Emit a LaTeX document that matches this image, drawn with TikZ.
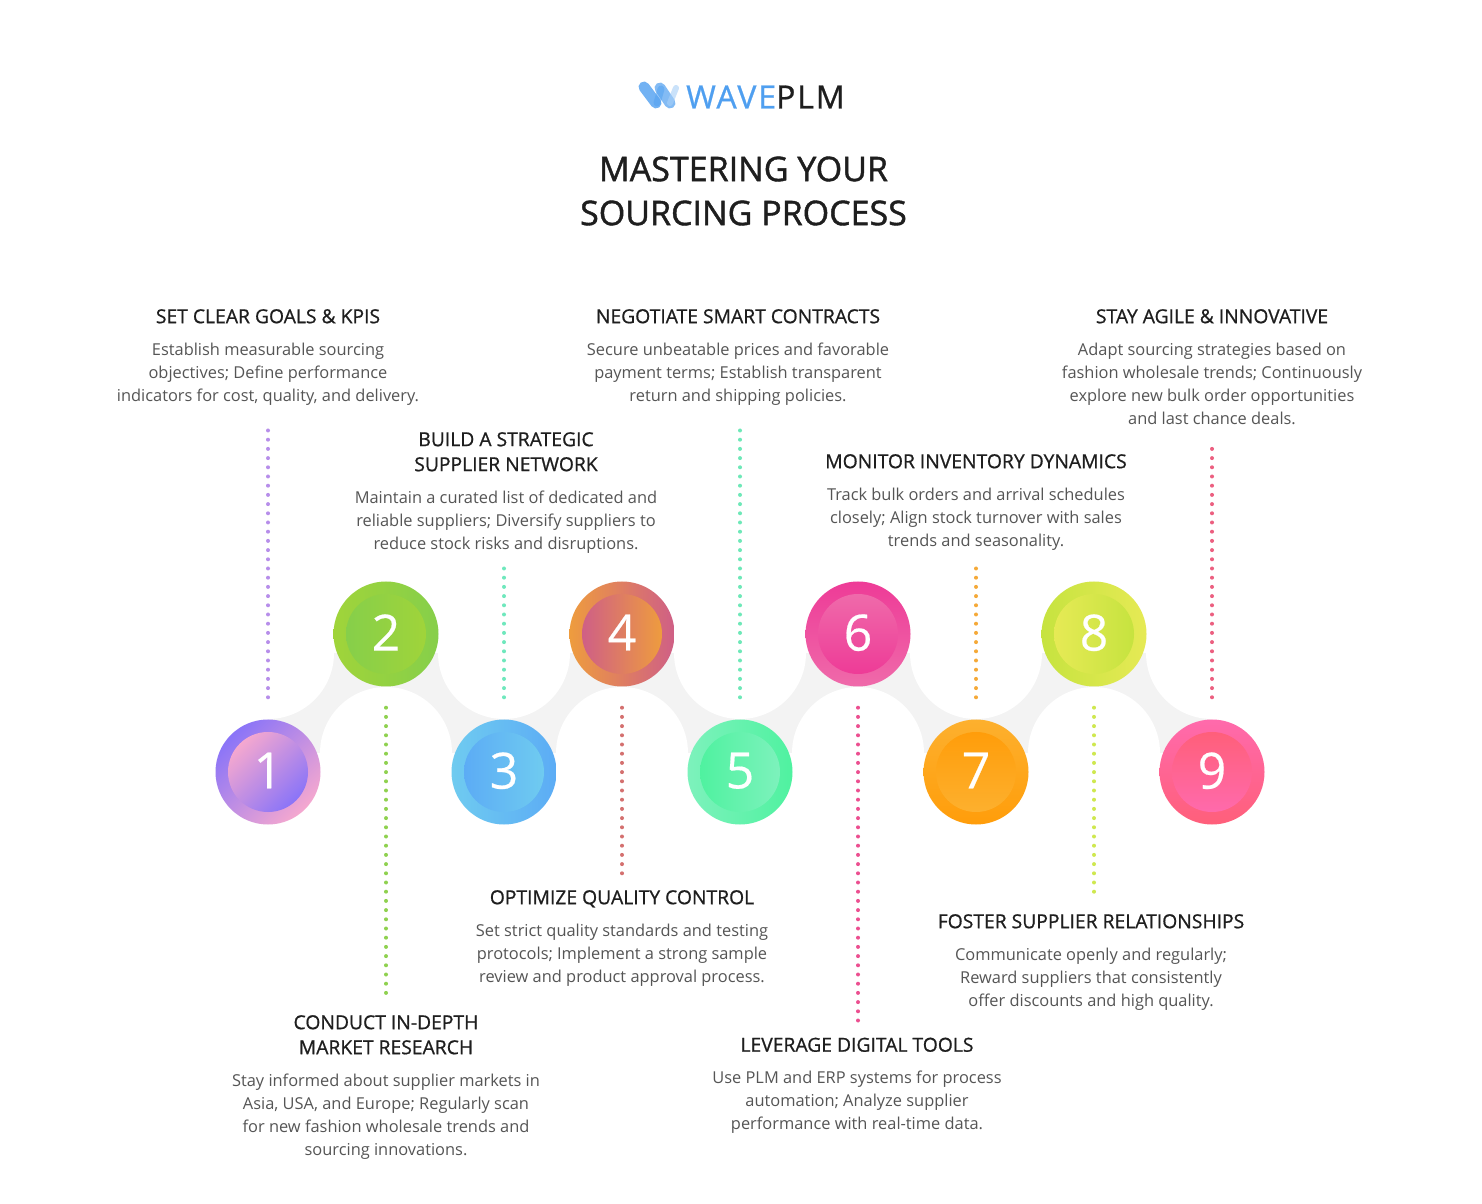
\documentclass[tikz,border=0pt]{standalone}
\usepackage{fontspec}
\setmainfont{Open Sans}
\newfontfamily\headfont[FakeBold=0.8]{Open Sans}
\newfontfamily\titlefont[FakeBold=1.2]{Open Sans}
\newfontfamily\digitfont[FakeBold=0.4]{Open Sans}
\newfontfamily\logofont[LetterSpace=6,FakeBold=0.8]{Open Sans}
\definecolor{headcol}{HTML}{1E1E1E}
\definecolor{bodycol}{HTML}{555555}
\definecolor{wavecol}{HTML}{F3F3F3}
\definecolor{logoblue}{HTML}{4F9FF0}
\definecolor{purp}{HTML}{8A74F8}
\definecolor{pink}{HTML}{F5A8CF}
\definecolor{lime}{HTML}{A0D43A}
\definecolor{grass}{HTML}{86CF4A}
\definecolor{sky}{HTML}{6FCBF0}
\definecolor{azure}{HTML}{5CACF5}
\definecolor{amber}{HTML}{EE9C3E}
\definecolor{rosewood}{HTML}{CF5F86}
\definecolor{mint}{HTML}{7DF2BC}
\definecolor{jade}{HTML}{4FF2A0}
\definecolor{fuchsia}{HTML}{EE3B97}
\definecolor{blush}{HTML}{EF6AAA}
\definecolor{apricot}{HTML}{FDB02E}
\definecolor{tangerine}{HTML}{FF9D0A}
\definecolor{pear}{HTML}{C6E33F}
\definecolor{lemon}{HTML}{E6EA55}
\definecolor{candy}{HTML}{FF6AAC}
\definecolor{coral}{HTML}{FF5F7A}
\definecolor{dot1}{HTML}{B78EEA}
\definecolor{dot2}{HTML}{8FD14F}
\definecolor{dot3}{HTML}{6FE8BD}
\definecolor{dot4}{HTML}{D4706F}
\definecolor{dot5}{HTML}{6EE8B8}
\definecolor{dot6}{HTML}{EC4F90}
\definecolor{dot7}{HTML}{F5A938}
\definecolor{dot8}{HTML}{CFE84F}
\definecolor{dot9}{HTML}{EC5F80}
\newcommand{\hd}[1]{{\headfont\fontsize{19.3}{23}\selectfont\color{headcol}#1}}
\tikzset{
  txtbox/.style={anchor=north, align=center, inner sep=0pt, text=bodycol, font=\fontsize{16.4}{23}\selectfont},
  ball/.style n args={3}{circle, minimum size=105pt, inner sep=0pt, top color=#1, bottom color=#2, shading angle=#3},
  core/.style n args={3}{circle, minimum size=80pt, inner sep=0pt, top color=#1, bottom color=#2, shading angle=#3, text=white, text depth=3pt, font=\digitfont\fontsize{50}{50}\selectfont},
  dotline/.style={line width=4pt, line cap=round, dash pattern=on 0pt off 9.2pt, draw=#1},
  logostroke/.style={line width=11pt, line cap=round, draw=#1}
}
\begin{document}
\begin{tikzpicture}[x=1pt,y=1pt]
\path[fill=white, use as bounding box] (0,0) rectangle (1482,1203);
% wave behind the balls
\fill[wavecol] (268,450) rectangle (1212,550);
\fill[white] (268,550) circle (66) (504,550) circle (66) (740,550) circle (66) (976,550) circle (66) (1212,550) circle (66);
\fill[white] (386,450) circle (66) (622,450) circle (66) (858,450) circle (66) (1094,450) circle (66);
% logo
\draw[logostroke=logoblue, opacity=.8] (644,1116) -- (656,1100);
\draw[logostroke=logoblue, opacity=.5, line width=7pt] (657,1100) -- (661,1114);
\draw[logostroke=logoblue, opacity=.7] (660,1115) -- (670,1100);
\draw[logostroke=logoblue!50, opacity=.6, line width=6pt] (670,1100) -- (676,1115);
\node[anchor=west, inner sep=0pt, font=\logofont\fontsize{32}{32}\selectfont] (logo) at (686,1106) {\textcolor{logoblue}{WAVE}\textcolor{headcol}{PLM}};
% title
\node[align=center, inner sep=0pt, font=\titlefont\fontsize{34}{44}\selectfont, text=headcol] (title) at (743.5,1012) {MASTERING YOUR\\SOURCING PROCESS};
% balls
\node[ball={purp}{pink}{45}] (N1) at (268,431) {};
\node[ball={lime}{grass}{90}] at ([xshift=118pt,yshift=138pt]N1.center) (N2) {};
\node[ball={sky}{azure}{90}] at ([xshift=236pt]N1.center) (N3) {};
\node[ball={amber}{rosewood}{90}] at ([xshift=236pt]N2.center) (N4) {};
\node[ball={mint}{jade}{90}] at ([xshift=472pt]N1.center) (N5) {};
\node[ball={fuchsia}{blush}{0}] at ([xshift=472pt]N2.center) (N6) {};
\node[ball={apricot}{tangerine}{0}] at ([xshift=708pt]N1.center) (N7) {};
\node[ball={pear}{lemon}{90}] at ([xshift=708pt]N2.center) (N8) {};
\node[ball={candy}{coral}{0}] at ([xshift=944pt]N1.center) (N9) {};
\node[core={pink}{purp}{45}] at (N1.center) (D1) {1};
\node[core={grass}{lime}{90}] at (N2.center) (D2) {2};
\node[core={azure}{sky}{90}] at (N3.center) (D3) {3};
\node[core={rosewood}{amber}{90}] at (N4.center) (D4) {4};
\node[core={jade}{mint}{90}] at (N5.center) (D5) {5};
\node[core={blush}{fuchsia}{0}] at (N6.center) (D6) {6};
\node[core={tangerine}{apricot}{0}] at (N7.center) (D7) {7};
\node[core={lemon}{pear}{90}] at (N8.center) (D8) {8};
\node[core={coral}{candy}{0}] at (N9.center) (D9) {9};
% texts
\node[txtbox] (T1) at (268,894) {\hd{SET CLEAR GOALS \& KPIS}\\[9pt]Establish measurable sourcing\\objectives; Define performance\\indicators for cost, quality, and delivery.};
\node[txtbox] (T2) at (386,188) {\hd{CONDUCT IN-DEPTH}\\[2pt]\hd{MARKET RESEARCH}\\[9pt]Stay informed about supplier markets in\\Asia, USA, and Europe; Regularly scan\\for new fashion wholesale trends and\\sourcing innovations.};
\node[txtbox] (T3) at (506,771) {\hd{BUILD A STRATEGIC}\\[2pt]\hd{SUPPLIER NETWORK}\\[9pt]Maintain a curated list of dedicated and\\reliable suppliers; Diversify suppliers to\\reduce stock risks and disruptions.};
\node[txtbox] (T4) at (622,313) {\hd{OPTIMIZE QUALITY CONTROL}\\[9pt]Set strict quality standards and testing\\protocols; Implement a strong sample\\review and product approval process.};
\node[txtbox] (T5) at (738,894) {\hd{NEGOTIATE SMART CONTRACTS}\\[9pt]Secure unbeatable prices and favorable\\payment terms; Establish transparent\\return and shipping policies.};
\node[txtbox] (T6) at (857,165.5) {\hd{LEVERAGE DIGITAL TOOLS}\\[9pt]Use PLM and ERP systems for process\\automation; Analyze supplier\\performance with real-time data.};
\node[txtbox] (T7) at (976,749) {\hd{MONITOR INVENTORY DYNAMICS}\\[9pt]Track bulk orders and arrival schedules\\closely; Align stock turnover with sales\\trends and seasonality.};
\node[txtbox] (T8) at (1091,289) {\hd{FOSTER SUPPLIER RELATIONSHIPS}\\[9pt]Communicate openly and regularly;\\Reward suppliers that consistently\\offer discounts and high quality.};
\node[txtbox] (T9) at (1212,894) {\hd{STAY AGILE \& INNOVATIVE}\\[9pt]Adapt sourcing strategies based on\\fashion wholesale trends; Continuously\\explore new bulk order opportunities\\and last chance deals.};
% dotted connectors
\draw[dotline=dot1, shorten >=19pt] ([yshift=22pt]N1.north) -- (N1.north |- T1.south);
\draw[dotline=dot2, shorten >=13pt] ([yshift=-21pt]N2.south) -- (N2.south |- T2.north);
\draw[dotline=dot3, shorten >=12pt] ([yshift=22pt]N3.north) -- (N3.north |- T3.south);
\draw[dotline=dot4, shorten >=13pt] ([yshift=-21pt]N4.south) -- (N4.south |- T4.north);
\draw[dotline=dot5, shorten >=20pt] ([yshift=22pt]N5.north) -- (N5.north |- T5.south);
\draw[dotline=dot6, shorten >=12.5pt] ([yshift=-21pt]N6.south) -- (N6.south |- T6.north);
\draw[dotline=dot7, shorten >=17pt] ([yshift=22pt]N7.north) -- (N7.north |- T7.south);
\draw[dotline=dot8, shorten >=19pt] ([yshift=-21pt]N8.south) -- (N8.south |- T8.north);
\draw[dotline=dot9, shorten >=20pt] ([yshift=22pt]N9.north) -- (N9.north |- T9.south);
\end{tikzpicture}
\end{document}
